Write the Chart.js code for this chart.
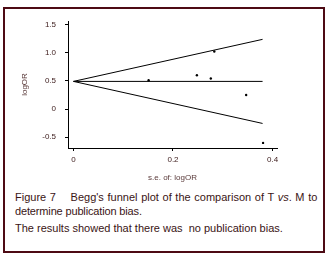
<!DOCTYPE html>
<html>
<head>
<meta charset="utf-8">
<script src="https://cdn.jsdelivr.net/npm/chart.js@4"></script>
<style>
  body { margin: 0; background: #fff; font-family: "Liberation Sans", Arial, sans-serif; }
  .frame { position: absolute; left: 3px; top: 7px; width: 318px; height: 242px; border: 2px solid #4d0a14; }
  #wrap { position: absolute; left: 0; top: 0; width: 328px; height: 190px; }
  .cap { position: absolute; left: 15px; font-size: 11px; color: #3a1414; white-space: pre; line-height: 13px; }
</style>
</head>
<body>
<div class="frame"></div>
<div id="wrap"><canvas id="chart" width="328" height="190"></canvas></div>
<div class="cap" style="top:191px; word-spacing:0.6px">Figure 7    Begg's funnel plot of the comparison of T <i>vs</i>. M to</div>
<div class="cap" style="top:205px; letter-spacing:-0.15px">determine publication bias.</div>
<div class="cap" style="top:222px">The results showed that there was  no publication bias.</div>
<script>
// studies: standard error of logOR and logOR
const seValues = [0.151, 0.248, 0.276, 0.283, 0.347, 0.381]
const logOrValues = [0.51, 0.60, 0.54, 1.02, 0.25, -0.60]

// pseudo 95% confidence limits of the funnel
const funnelSe = [0, 0.38]
const pooledLine = [0.49, 0.49]
const upperLimit = [0.49, 1.235]
const lowerLimit = [0.49, -0.255]

const xTicks = [0, 0.2, 0.4]
const yTicks = [-0.5, 0, 0.5, 1.0, 1.5]

const toPoints = (xs, ys) => xs.map((x, i) => ({ x, y: ys[i] }))

const lineSet = (ys) => ({
  type: 'line',
  data: toPoints(funnelSe, ys),
  borderColor: '#000',
  borderWidth: 1,
  pointRadius: 0,
  fill: false
})

const tickFont = { family: 'Liberation Sans', size: 8 }

new Chart(document.getElementById('chart'), {
  type: 'scatter',
  data: {
    datasets: [
      {
        data: toPoints(seValues, logOrValues),
        backgroundColor: '#000',
        borderColor: '#000',
        pointRadius: 1.2,
        borderWidth: 0
      },
      lineSet(pooledLine),
      lineSet(upperLimit),
      lineSet(lowerLimit)
    ]
  },
  options: {
    responsive: false,
    animation: false,
    layout: { padding: { left: 0, top: 21, right: 51, bottom: 0 } },
    plugins: { legend: { display: false }, tooltip: { enabled: false } },
    scales: {
      x: {
        type: 'linear',
        min: -0.011,
        max: 0.409,
        afterBuildTicks: (s) => { s.ticks = xTicks.map(v => ({ value: v })) },
        afterFit: (s) => { s.height = 42 },
        grid: { drawOnChartArea: false, drawTicks: true, tickLength: 3, color: '#000' },
        border: { display: true, color: '#000', width: 1 },
        ticks: {
          font: tickFont,
          color: '#3b1a1a',
          padding: 4,
          maxRotation: 0,
          callback: (v) => v === 0 ? '0' : v.toFixed(1)
        },
        title: {
          display: true,
          text: 's.e. of: logOR',
          font: { family: 'Liberation Sans', size: 8 },
          color: '#5a3a3a',
          padding: { top: 0, bottom: 7 }
        }
      },
      y: {
        type: 'linear',
        min: -0.69,
        max: 1.56,
        afterBuildTicks: (s) => { s.ticks = yTicks.map(v => ({ value: v })) },
        afterFit: (s) => { s.width = 68 },
        grid: { drawOnChartArea: false, drawTicks: true, tickLength: 3, color: '#000' },
        border: { display: true, color: '#000', width: 1 },
        ticks: {
          font: tickFont,
          color: '#3b1a1a',
          padding: 9,
          callback: (v) => v === 0 ? '0' : v.toFixed(1)
        },
        title: {
          display: true,
          text: 'logOR',
          font: { family: 'Liberation Sans', size: 8 },
          color: '#5a3a3a',
          padding: { top: 20, bottom: 0 }
        }
      }
    }
  }
})
</script>
</body>
</html>
